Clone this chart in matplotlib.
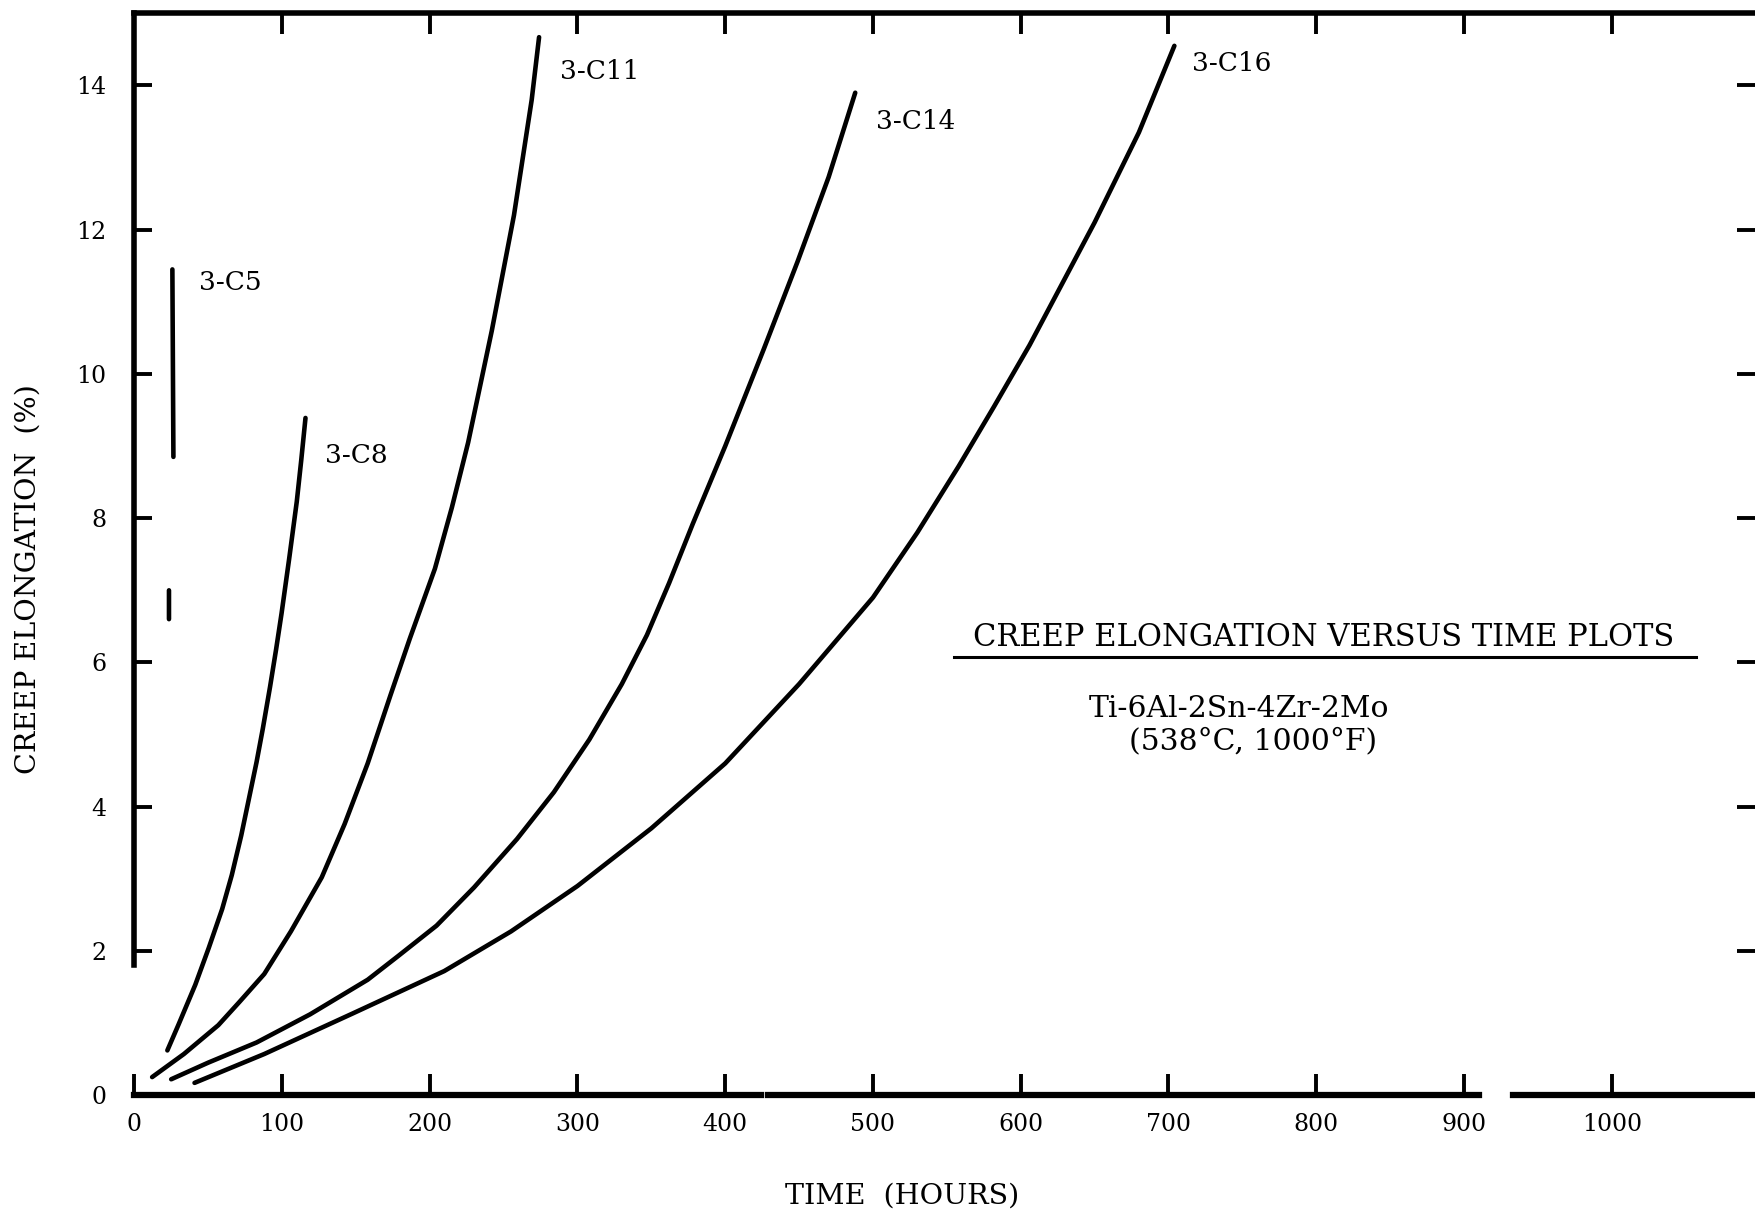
"""
Creep elongation versus time plots, Ti-6Al-2Sn-4Zr-2Mo at 538 C.
"""

import numpy as np
import matplotlib
matplotlib.use('Agg')
import matplotlib.pyplot as plt

plt.rcParams['font.family'] = ['DejaVu Serif']

# Curves (hours, % creep elongation)
c5_hours = [26.5, 25.8, np.nan, 23.5, 23.5]
c5_pct = [8.85, 11.45, np.nan, 6.6, 7.0]

c8_hours = [22.4, 30, 41.3, 50.4, 59.5, 66, 72.4, 77, 82.8, 87, 91.9, 96, 99.7,
            104.8, 110, 113, 115.9]
c8_pct = [0.62, 0.98, 1.53, 2.04, 2.58, 3.05, 3.6, 4.05, 4.62, 5.08, 5.66, 6.18, 6.68,
          7.43, 8.23, 8.8, 9.39]

c11_hours = [12.1, 33.6, 56.9, 71.1, 88, 106, 126.9, 142.4, 158, 173.5, 186.5, 203.5,
             215, 226, 242, 257, 269, 274]
c11_pct = [0.25, 0.57, 0.97, 1.29, 1.68, 2.27, 3.02, 3.76, 4.6, 5.55, 6.33, 7.3,
           8.15, 9.05, 10.6, 12.2, 13.8, 14.67]

c14_hours = [25, 50, 82.8, 119, 158, 178.7, 204.6, 230, 259, 284, 308, 330, 347, 362,
             378, 400, 426, 449, 470, 488]
c14_pct = [0.22, 0.45, 0.73, 1.12, 1.6, 1.93, 2.35, 2.88, 3.55, 4.2, 4.93, 5.7, 6.38, 7.1,
           7.92, 9.0, 10.34, 11.56, 12.73, 13.9]

c16_hours = [40.8, 88, 147.6, 209.8, 255, 300, 350, 400, 450, 500, 530, 558, 582,
             606, 628, 650, 680, 704]
c16_pct = [0.17, 0.57, 1.13, 1.72, 2.27, 2.9, 3.7, 4.6, 5.7, 6.9, 7.8, 8.72, 9.55,
           10.4, 11.25, 12.1, 13.35, 14.55]

curve_names = ['3-C5', '3-C8', '3-C11', '3-C14', '3-C16']
label_x = [44, 129, 288, 502, 716]
label_y = [11.27, 8.87, 14.2, 13.5, 14.3]

x_ticks = list(range(0, 1001, 100))
y_ticks = list(range(0, 15, 2))

# Gaps in the hand-drawn bottom axis line (hours)
x_breaks = [(424, 429), (910, 933)]
x_right = 1097

fig = plt.figure(figsize=(17.55, 12.16), dpi=100)
ax = fig.add_axes([0.0765, 0.0994, 0.9235, 0.8896])

lw = 3.3
for h, p in [(c5_hours, c5_pct), (c8_hours, c8_pct), (c11_hours, c11_pct),
             (c14_hours, c14_pct), (c16_hours, c16_pct)]:
    ax.plot(h, p, color='black', lw=lw, solid_capstyle='round',
            solid_joinstyle='round')

for name, lx, ly in zip(curve_names, label_x, label_y):
    ax.text(lx, ly, name, fontsize=19, va='center', ha='left')

ax.set_xlim(0, x_right)
ax.set_ylim(0, 15)

# Axis frame like the original drawing
ax.spines['right'].set_visible(False)
ax.spines['bottom'].set_visible(False)
ax.spines['left'].set_bounds(1.8, 15)
for s in ['left', 'top']:
    ax.spines[s].set_linewidth(4)
seg_start = 0
for b0, b1 in x_breaks + [(x_right, x_right)]:
    ax.plot([seg_start, b0], [0, 0], color='black', lw=4.5,
            transform=ax.get_xaxis_transform(), clip_on=False)
    seg_start = b1

ax.set_xticks(x_ticks)
ax.set_xticklabels([str(t) for t in x_ticks])
ax.set_yticks(y_ticks)
ax.set_yticklabels([str(t) for t in y_ticks])
ax.tick_params(axis='x', which='both', direction='in', top=True, bottom=True,
               length=15, width=2.8, labelsize=17, pad=13)
ax.tick_params(axis='y', which='both', direction='in', left=True, right=True,
               length=13, width=2.8, labelsize=17, pad=20)

ax.set_xlabel('TIME  (HOURS)', fontsize=20.5)
ax.xaxis.set_label_coords(0.474, -0.081)
ax.set_ylabel('CREEP ELONGATION  (%)', fontsize=20.5)
ax.yaxis.set_label_coords(-0.057, 0.477)

# Title block inside the plot
ax.text(0.734, 0.423, 'CREEP ELONGATION VERSUS TIME PLOTS', transform=ax.transAxes,
        fontsize=22, ha='center', va='center')
ax.plot([0.5055, 0.9634], [0.4048, 0.4048], color='black', lw=2.2,
        transform=ax.transAxes)
ax.text(0.6816, 0.357, 'Ti-6Al-2Sn-4Zr-2Mo', transform=ax.transAxes,
        fontsize=21.5, ha='center', va='center')
ax.text(0.69, 0.327, '(538°C, 1000°F)', transform=ax.transAxes,
        fontsize=21.5, ha='center', va='center')

fig.savefig('out.png', dpi=100)
plt.close(fig)
